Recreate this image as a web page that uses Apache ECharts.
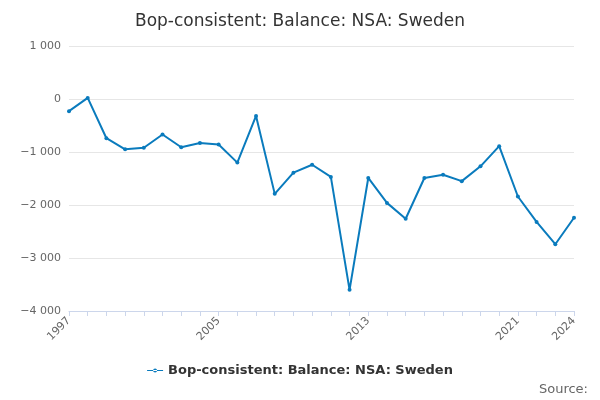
<!DOCTYPE html>
<html>
<head>
<meta charset="utf-8">
<script src="https://cdn.jsdelivr.net/npm/echarts@6/dist/echarts.min.js"></script>
<style>html,body{margin:0;padding:0;background:#fff}#chart{width:600px;height:400px}</style>
</head>
<body>
<div id="chart"></div>
<script>
const years = ['1997','1998','1999','2000','2001','2002','2003','2004','2005','2006','2007','2008','2009','2010',
  '2011','2012','2013','2014','2015','2016','2017','2018','2019','2020','2021','2022','2023','2024'];
const balance = [-230,20,-740,-950,-920,-670,-910,-830,-860,-1200,-320,-1790,-1390,-1240,
  -1470,-3600,-1490,-1960,-2260,-1490,-1430,-1550,-1270,-890,-1840,-2320,-2740,-2240];
const shownYears = ['1997','2005','2013','2021','2024'];
const seriesName = 'Bop-consistent: Balance: NSA: Sweden';

const chart = echarts.init(document.getElementById('chart'));
chart.setOption({
  textStyle: { fontFamily: 'DejaVu Sans' },
  title: {
    text: 'Bop-consistent: Balance: NSA: Sweden',
    left: 'center', top: 8,
    textStyle: { fontSize: 17, fontWeight: 'normal', color: '#333' }
  },
  legend: {
    bottom: 18, left: 'center',
    data: [seriesName],
    icon: 'path://M0,4.5L16,4.5L16,5.5L0,5.5Z M6,5A2,2 0 1,0 10,5A2,2 0 1,0 6,5Z',
    itemWidth: 16, itemHeight: 10,
    textStyle: { fontSize: 13, fontWeight: 'bold', color: '#333' }
  },
  graphic: [{
    type: 'text', right: 12, bottom: 4,
    style: { text: 'Source:', fontSize: 13, fill: '#666', fontFamily: 'DejaVu Sans' }
  }],
  grid: { left: 69, right: 26, top: 46, bottom: 89 },
  xAxis: {
    type: 'category', data: years, boundaryGap: false,
    axisLine: { onZero: false, lineStyle: { color: '#ccd6eb' } },
    axisTick: { show: true, interval: 0, lineStyle: { color: '#ccd6eb' } },
    axisLabel: {
      interval: 0, rotate: 45, fontSize: 11, color: '#666',
      formatter: v => shownYears.includes(v) ? v : ''
    }
  },
  yAxis: {
    type: 'value', min: -4000, max: 1000, interval: 1000,
    axisLabel: { fontSize: 11, color: '#666', formatter: v => String(v).replace(/(\d)(?=(\d{3})+$)/, '$1 ').replace('-', '−') },
    splitLine: { lineStyle: { color: '#e6e6e6' } }
  },
  series: [{
    name: seriesName, type: 'line', data: balance,
    symbol: 'circle', symbolSize: 4,
    lineStyle: { color: '#0a7bbd', width: 2 },
    itemStyle: { color: '#0a7bbd' }
  }]
});
</script>
</body>
</html>
